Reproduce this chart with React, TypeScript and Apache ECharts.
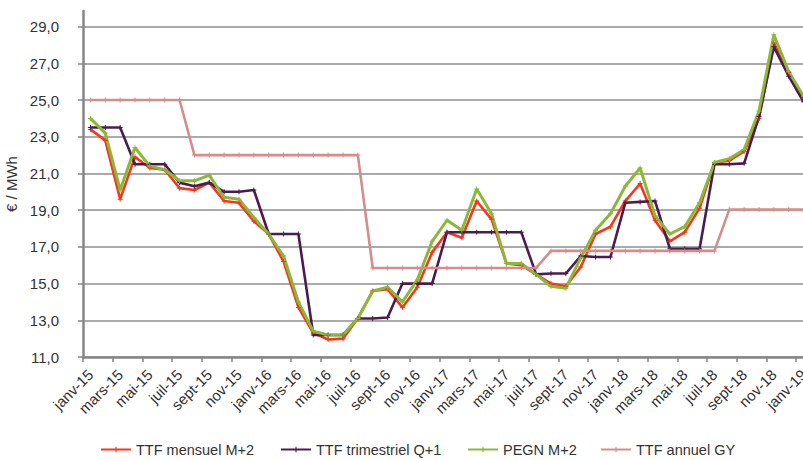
import React, { useEffect, useRef } from "react";
import * as echarts from "echarts";

const monthNames = ["janv", "févr", "mars", "avr", "mai", "juin", "juil", "août", "sept", "oct", "nov", "déc"];
const categories: string[] = [];
for (let y = 15; y <= 19; y++) {
  for (let m = 0; m < 12; m++) {
    if (y === 19 && m > 0) break;
    categories.push(`${monthNames[m]}-${y}`);
  }
}

const ttfMensuel = [
  23.4, 22.8, 19.6, 21.9, 21.3, 21.2, 20.2, 20.1, 20.5, 19.5, 19.4, 18.4,
  17.7, 16.2, 13.7, 12.3, 11.95, 12.0, 13.1, 14.6, 14.7, 13.7, 14.8, 16.7,
  17.8, 17.5, 19.5, 18.5, 16.1, 16.0, 15.5, 15.0, 14.85, 15.9, 17.7, 18.1,
  19.5, 20.45, 18.45, 17.3, 17.8, 19.1, 21.6, 21.7, 22.2, 24.0, 28.1, 26.5, 25.1,
];
const ttfTrimestriel = [
  23.5, 23.5, 23.5, 21.5, 21.5, 21.5, 20.5, 20.3, 20.5, 20.0, 20.0, 20.1,
  17.7, 17.7, 17.7, 12.2, 12.2, 12.2, 13.1, 13.1, 13.15, 15.0, 15.0, 15.0,
  17.8, 17.8, 17.8, 17.8, 17.8, 17.8, 15.5, 15.55, 15.55, 16.5, 16.45, 16.45,
  19.4, 19.45, 19.5, 16.9, 16.9, 16.9, 21.5, 21.5, 21.55, 24.1, 27.9, 26.3, 24.9,
];
const pegn = [
  24.0, 23.2, 20.1, 22.4, 21.4, 21.2, 20.6, 20.6, 20.9, 19.7, 19.6, 18.6,
  17.7, 16.5, 14.0, 12.4, 12.2, 12.2, 13.1, 14.6, 14.8, 14.0, 15.2, 17.3,
  18.45, 17.9, 20.15, 18.8, 16.1, 16.1, 15.5, 14.85, 14.75, 16.4, 17.9, 18.8,
  20.3, 21.3, 18.7, 17.7, 18.1, 19.4, 21.6, 21.8, 22.3, 24.4, 28.55, 26.55, 25.2,
];
const ttfAnnuel = [
  25.0, 25.0, 25.0, 25.0, 25.0, 25.0, 25.0, 22.0, 22.0, 22.0, 22.0, 22.0,
  22.0, 22.0, 22.0, 22.0, 22.0, 22.0, 22.0, 15.85, 15.85, 15.85, 15.85, 15.85,
  15.85, 15.85, 15.85, 15.85, 15.85, 15.85, 15.85, 16.78, 16.78, 16.78, 16.78, 16.78,
  16.78, 16.78, 16.78, 16.78, 16.78, 16.78, 16.78, 19.03, 19.03, 19.03, 19.03, 19.03, 19.03,
];
const yTicks = [11, 13, 15, 17, 19, 21, 23, 25, 27, 29];

const seriesDefs = [
  { name: "TTF mensuel M+2", data: ttfMensuel, color: "#F5371E", width: 2.6 },
  { name: "TTF trimestriel Q+1", data: ttfTrimestriel, color: "#4A1C50", width: 2.6 },
  { name: "PEGN M+2", data: pegn, color: "#8CB83A", width: 3 },
  { name: "TTF annuel GY", data: ttfAnnuel, color: "#D38E8C", width: 2.6 },
];
const legendLefts = [100, 280, 467, 600];

const plus = "path://M2,0H3V2H5V3H3V5H2V3H0V2H2Z";
const font = "'Liberation Sans', Arial, sans-serif";

export default function App() {
  const ref = useRef<HTMLDivElement>(null);
  useEffect(() => {
    if (!ref.current) return;
    const chart = echarts.init(ref.current, undefined, { renderer: "svg" });
    chart.setOption({
      animation: false,
      backgroundColor: "#ffffff",
      textStyle: { fontFamily: font },
      grid: { left: 83, right: -8, top: 11, bottom: 103, containLabel: false, outerBoundsMode: "none" },
      legend: seriesDefs.map((s, i) => ({
        data: [s.name],
        left: legendLefts[i],
        top: 442,
        padding: 0,
        itemWidth: 30,
        itemHeight: 7,
        itemGap: 0,
        textStyle: { fontSize: 14.5, color: "#333333", fontFamily: font },
      })),
      xAxis: {
        type: "category",
        data: categories,
        boundaryGap: true,
        axisLine: { lineStyle: { color: "#868686", width: 2.5 } },
        axisTick: { show: true, length: 5, lineStyle: { color: "#868686", width: 1.5 } },
        axisLabel: {
          interval: 1,
          rotate: 45,
          margin: 15,
          fontSize: 15,
          color: "#333333",
          fontFamily: font,
        },
        splitLine: { show: false },
      },
      yAxis: {
        type: "value",
        min: 11,
        max: 29.85,
        interval: 2,
        name: "€ / MWh",
        nameLocation: "middle",
        nameGap: 58,
        nameTextStyle: { fontSize: 15, color: "#333333", fontFamily: font },
        axisLine: { show: true, lineStyle: { color: "#868686", width: 2.5 } },
        axisTick: { show: true, length: 5, customValues: yTicks, lineStyle: { color: "#868686", width: 1.5 } },
        axisLabel: {
          customValues: yTicks,
          margin: 24,
          fontSize: 15,
          color: "#333333",
          fontFamily: font,
          formatter: (v: number) => (yTicks.indexOf(Math.round(v * 100) / 100) >= 0 ? v.toFixed(1).replace(".", ",") : ""),
        },
        splitLine: { show: true, lineStyle: { color: "#8E8E8E", width: 1.6 } },
      },
      series: seriesDefs.map((s) => ({
        name: s.name,
        type: "line",
        data: s.data,
        symbol: plus,
        symbolSize: 5,
        showAllSymbol: true,
        lineStyle: { color: s.color, width: s.width },
        itemStyle: { color: s.color },
      })),
    });
    return () => chart.dispose();
  }, []);
  return <div ref={ref} style={{ position: "absolute", left: 0, top: 0, width: 803, height: 460 }} />;
}
